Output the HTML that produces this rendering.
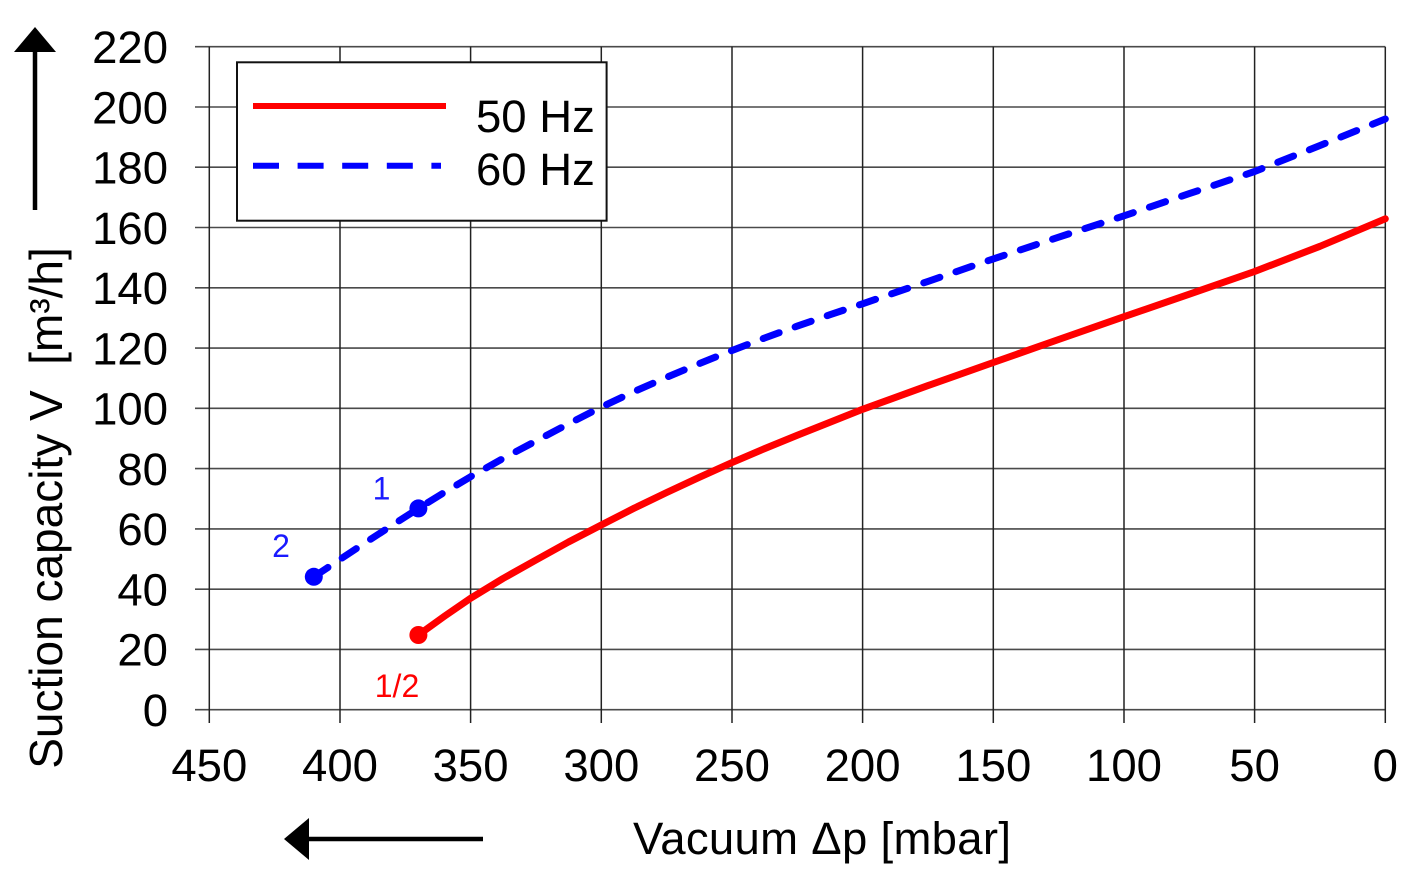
<!DOCTYPE html>
<html>
<head>
<meta charset="utf-8">
<style>
  html, body { margin:0; padding:0; background:#fff; }
  svg { display:block; }
  text { font-family: "Liberation Sans", Arial, sans-serif; }
</style>
</head>
<body>
<svg width="1408" height="878" viewBox="0 0 1408 878" xmlns="http://www.w3.org/2000/svg">
  <rect x="0" y="0" width="1408" height="878" fill="#fff"/>

  <!-- horizontal grid lines -->
  <g stroke="#4a4a4a" stroke-width="1.6">
    <line x1="195" y1="46.7" x2="1385.3" y2="46.7"/>
    <line x1="195" y1="107" x2="1385.3" y2="107"/>
    <line x1="195" y1="167.2" x2="1385.3" y2="167.2"/>
    <line x1="195" y1="227.5" x2="1385.3" y2="227.5"/>
    <line x1="195" y1="287.8" x2="1385.3" y2="287.8"/>
    <line x1="195" y1="348.1" x2="1385.3" y2="348.1"/>
    <line x1="195" y1="408.3" x2="1385.3" y2="408.3"/>
    <line x1="195" y1="468.6" x2="1385.3" y2="468.6"/>
    <line x1="195" y1="528.9" x2="1385.3" y2="528.9"/>
    <line x1="195" y1="589.2" x2="1385.3" y2="589.2"/>
    <line x1="195" y1="649.4" x2="1385.3" y2="649.4"/>
    <line x1="195" y1="709.7" x2="1385.3" y2="709.7"/>
  </g>
  <!-- vertical grid lines -->
  <g stroke="#222" stroke-width="1.5">
    <line x1="209.3" y1="46.7" x2="209.3" y2="723"/>
    <line x1="340" y1="46.7" x2="340" y2="723"/>
    <line x1="470.6" y1="46.7" x2="470.6" y2="723"/>
    <line x1="601.3" y1="46.7" x2="601.3" y2="723"/>
    <line x1="732" y1="46.7" x2="732" y2="723"/>
    <line x1="862.6" y1="46.7" x2="862.6" y2="723"/>
    <line x1="993.3" y1="46.7" x2="993.3" y2="723"/>
    <line x1="1124" y1="46.7" x2="1124" y2="723"/>
    <line x1="1254.6" y1="46.7" x2="1254.6" y2="723"/>
    <line x1="1385.3" y1="46.7" x2="1385.3" y2="723"/>
  </g>

  <!-- y tick labels -->
  <g font-size="45.5" fill="#000" text-anchor="end">
    <text x="168" y="63">220</text>
    <text x="168" y="123.3">200</text>
    <text x="168" y="183.5">180</text>
    <text x="168" y="243.8">160</text>
    <text x="168" y="304.1">140</text>
    <text x="168" y="364.4">120</text>
    <text x="168" y="424.6">100</text>
    <text x="168" y="484.9">80</text>
    <text x="168" y="545.2">60</text>
    <text x="168" y="605.5">40</text>
    <text x="168" y="665.7">20</text>
    <text x="168" y="726">0</text>
  </g>

  <!-- x tick labels -->
  <g font-size="45.5" fill="#000" text-anchor="middle">
    <text x="209.3" y="781">450</text>
    <text x="340" y="781">400</text>
    <text x="470.6" y="781">350</text>
    <text x="601.3" y="781">300</text>
    <text x="732" y="781">250</text>
    <text x="862.6" y="781">200</text>
    <text x="993.3" y="781">150</text>
    <text x="1124" y="781">100</text>
    <text x="1254.6" y="781">50</text>
    <text x="1385.3" y="781">0</text>
  </g>

  <!-- axis titles -->
  <text x="633" y="854" font-size="45.5" fill="#000" textLength="378" lengthAdjust="spacing">Vacuum Δp [mbar]</text>
  <text transform="translate(62,508) rotate(-90)" font-size="46" fill="#000" text-anchor="middle" xml:space="preserve">Suction capacity V  [m³/h]</text>

  <!-- y arrow -->
  <line x1="35" y1="210" x2="35" y2="50" stroke="#000" stroke-width="4.5"/>
  <polygon points="35,27 14,52 56,52" fill="#000"/>
  <!-- x arrow -->
  <line x1="483" y1="839" x2="307" y2="839" stroke="#000" stroke-width="4.5"/>
  <polygon points="284,839 309,818 309,860" fill="#000"/>

  <!-- 50 Hz red curve -->
  <polyline fill="none" stroke="#ff0000" stroke-width="7" stroke-linejoin="round" stroke-linecap="round"
    points="418.4,635 444.5,616.2 470.6,598.2 503,578.5 536,560 568.5,542 601.3,525 634,508.3 666.7,492.5 699.3,477.3 732,462.6 764.6,448.6 797.3,435.3 830,422.2 862.6,409.3 928,385.6 993.3,362.5 1058.6,339.5 1124,316.7 1189.3,294.2 1254.6,271.5 1320,246.3 1385.3,218.8"/>
  <circle cx="418.4" cy="635" r="9" fill="#ff0000"/>

  <!-- 60 Hz blue dashed curve -->
  <polyline fill="none" stroke="#0000ff" stroke-width="7" stroke-linejoin="round" stroke-linecap="round" stroke-dasharray="17 17"
    points="313.8,576.8 366,542.2 418.4,508.4 444.5,492.3 470.6,476.7 503,458.5 536,441 568.5,423.8 601.3,407.1 634,391.6 666.7,377.3 699.3,363.6 732,350.5 764.6,338 797.3,326.1 830,314.7 862.6,303.8 928,281.4 993.3,258.9 1058.6,237.2 1124,215.8 1189.3,193.6 1254.6,171.5 1320,145.5 1385.3,119"/>
  <circle cx="313.8" cy="576.8" r="9" fill="#0000ff"/>
  <circle cx="418.4" cy="508.4" r="9" fill="#0000ff"/>

  <!-- point labels -->
  <text x="281" y="557" font-size="32" fill="#1a1aff" text-anchor="middle">2</text>
  <text x="381.5" y="499.5" font-size="32" fill="#1a1aff" text-anchor="middle">1</text>
  <text x="397" y="697" font-size="32" fill="#ff0000" text-anchor="middle">1/2</text>

  <!-- legend -->
  <rect x="237" y="62.3" width="369.6" height="158.4" fill="#fff" stroke="#111" stroke-width="2"/>
  <line x1="253" y1="106" x2="446" y2="106" stroke="#ff0000" stroke-width="6"/>
  <line x1="253" y1="165.7" x2="441" y2="165.7" stroke="#0000ff" stroke-width="6" stroke-dasharray="26 18.6"/>
  <text x="476" y="132" font-size="45.5" fill="#000">50 Hz</text>
  <text x="476" y="185" font-size="45.5" fill="#000">60 Hz</text>
</svg>
</body>
</html>
